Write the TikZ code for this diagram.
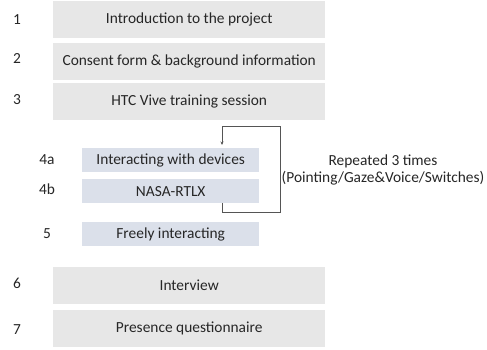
\documentclass[tikz,border=0pt]{standalone}
\usepackage{fontspec}
\setmainfont{Carlito}
\usetikzlibrary{arrows.meta}
\definecolor{boxgray}{HTML}{E7E7E7}
\definecolor{boxblue}{HTML}{DBE0EA}
\definecolor{txt}{HTML}{262626}
\definecolor{loopc}{HTML}{555555}
\begin{document}
\begin{tikzpicture}[x=1bp,y=-1bp,
  every node/.style={font=\fontsize{15.4bp}{16.5bp}\selectfont, text=txt},
  graybox/.style={fill=boxgray, draw=none, minimum width=272bp, minimum height=37bp, anchor=north west, inner sep=0pt},
  bluebox/.style={fill=boxblue, draw=none, minimum width=177bp, minimum height=24bp, anchor=north west, inner sep=0pt},
  numlab/.style={anchor=center, inner sep=0pt},
  loopline/.style={draw=loopc, line width=0.8bp}]
\useasboundingbox (0,0) rectangle (487,349);
\node[graybox] (b1) at (53,1) {Introduction to the project};
\node[graybox] (b2) at (53,43) {Consent form \& background information};
\node[graybox] (b3) at (53,83) {HTC Vive training session};
\node[bluebox] (b4a) at (82,148) {Interacting with devices};
\node[bluebox] (b4b) at (82,179) {NASA-RTLX};
\node[bluebox] (b5) at (82,222) {Freely interacting};
\node[graybox] (b6) at (53,267) {Interview};
\node[graybox] (b7) at (53,310) {Presence questionnaire};
\node[numlab] (n1) at (17,20) {1};
\node[numlab] (n2) at (17,58) {2};
\node[numlab] (n3) at (17,100) {3};
\node[numlab] (n4a) at (47,160) {4a};
\node[numlab] (n4b) at (47,189) {4b};
\node[numlab] (n5) at (47,234) {5};
\node[numlab] (n6) at (17,283) {6};
\node[numlab] (n7) at (17,330) {7};
\node[anchor=center, inner sep=0pt, align=center] (rep) at (383,170) {Repeated 3 times\\(Pointing/Gaze\&Voice/Switches)};
\coordinate (ls) at (222,203);
\coordinate (le) at (222,145);
\draw[loopline, -{Stealth[length=3.5bp,width=3bp]}] (b4b.south -| ls) |- (280,212) -- (280,126) -| (le);
\end{tikzpicture}
\end{document}
